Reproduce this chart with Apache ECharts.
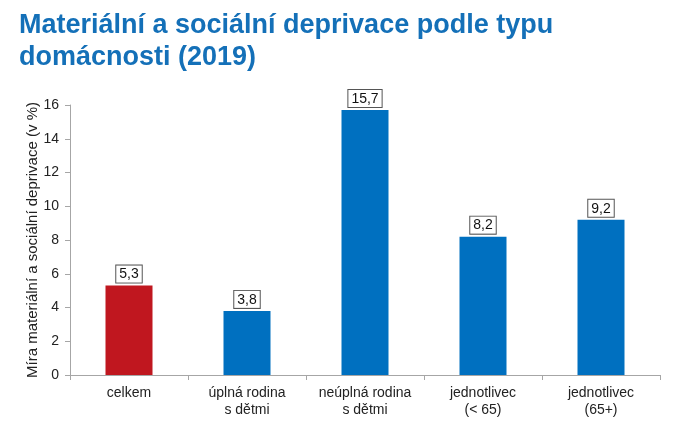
<!DOCTYPE html>
<html><head><meta charset="utf-8">
<script src="https://cdn.jsdelivr.net/npm/echarts@6/dist/echarts.min.js"></script>
<style>html,body{margin:0;padding:0;background:#fff}#c{width:682px;height:434px}</style>
</head><body><div id="c"></div>
<script>
const categories = ['celkem', 'úplná rodina\ns dětmi', 'neúplná rodina\ns dětmi', 'jednotlivec\n(< 65)', 'jednotlivec\n(65+)'];
const values = [5.3, 3.8, 15.7, 8.2, 9.2];
const barColors = ['#c0171f', '#0070c0', '#0070c0', '#0070c0', '#0070c0'];
const yTicks = [0, 2, 4, 6, 8, 10, 12, 14, 16];

const chart = echarts.init(document.getElementById('c'));
chart.setOption({
  animation: false,
  title: {
    text: 'Materiální a sociální deprivace podle typu\ndomácnosti (2019)',
    left: 14, top: 5,
    textStyle: {fontFamily: 'Liberation Sans, Arial', fontSize: 27, fontWeight: 'bold', color: '#1470b8', lineHeight: 32}
  },
  grid: {left: 70, right: 22, top: 105, bottom: 59},
  xAxis: {
    type: 'category', data: categories,
    axisLine: {lineStyle: {color: '#a6a6a6'}},
    axisTick: {show: true, interval: 0, alignWithLabel: false, length: 5, lineStyle: {color: '#a6a6a6'}},
    axisLabel: {interval: 0, hideOverlap: false, fontFamily: 'Liberation Sans, Arial', fontSize: 14, color: '#222', lineHeight: 17, margin: 10}
  },
  yAxis: {
    type: 'value', min: yTicks[0], max: yTicks[yTicks.length - 1], interval: 2,
    name: 'Míra materiální a sociální deprivace (v %)',
    nameLocation: 'middle', nameGap: 30, nameMoveOverlap: false,
    nameTextStyle: {fontFamily: 'Liberation Sans, Arial', fontSize: 15, color: '#222'},
    axisLine: {show: true, lineStyle: {color: '#a6a6a6'}},
    axisTick: {show: true, length: 5, lineStyle: {color: '#a6a6a6'}},
    splitLine: {show: false},
    axisLabel: {fontFamily: 'Liberation Sans, Arial', fontSize: 14, color: '#222', margin: 11}
  },
  series: [{
    type: 'bar', barWidth: 47,
    data: values.map((v, i) => ({value: v, itemStyle: {color: barColors[i]}})),
    label: {
      show: true, position: 'top', distance: 3,
      formatter: p => String(p.value).replace('.', ','),
      fontFamily: 'Liberation Sans, Arial', fontSize: 14, color: '#111',
      backgroundColor: '#fff', borderColor: '#555', borderWidth: 1,
      padding: [2, 3, 1, 3]
    }
  }]
});
</script></body></html>
